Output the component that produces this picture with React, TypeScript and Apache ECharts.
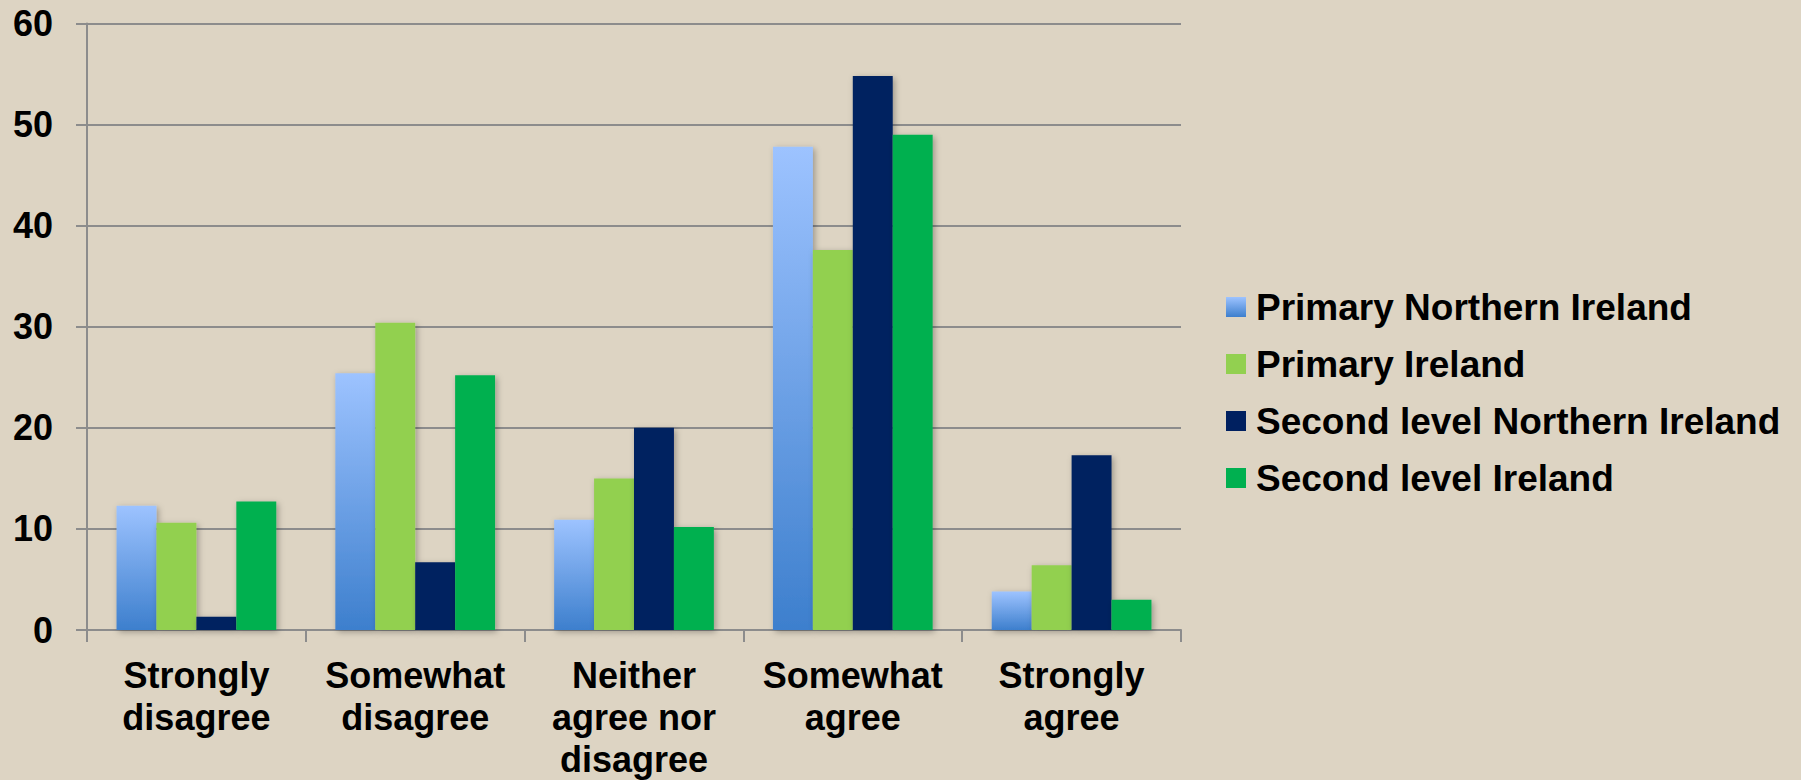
import React, { useEffect, useRef } from "react";
import * as echarts from "echarts";

const categories = [
  "Strongly\ndisagree",
  "Somewhat\ndisagree",
  "Neither\nagree nor\ndisagree",
  "Somewhat\nagree",
  "Strongly\nagree",
];
const seriesNames = [
  "Primary Northern Ireland",
  "Primary Ireland",
  "Second level Northern Ireland",
  "Second level Ireland",
];
const primaryNI = [12.3, 25.4, 10.9, 47.8, 3.8];
const primaryIreland = [10.6, 30.4, 15.0, 37.6, 6.4];
const secondNI = [1.3, 6.7, 20.0, 54.8, 17.3];
const secondIreland = [12.7, 25.2, 10.2, 49.0, 3.0];
const yTicks = { min: 0, max: 60, interval: 10 };

const FONT = '"Liberation Sans", Arial, sans-serif';

export default function App() {
  const ref = useRef<HTMLDivElement>(null);
  useEffect(() => {
    if (!ref.current) return;
    document.body.style.margin = "0";
    document.body.style.overflow = "hidden";
    const chart = echarts.init(ref.current, null, { renderer: "svg" });
    const blueGrad = new echarts.graphic.LinearGradient(0, 0, 0, 1, [
      { offset: 0, color: "#9dc3ff" },
      { offset: 1, color: "#3d7fcd" },
    ]);
    const colors: any[] = [blueGrad, "#92d050", "#002060", "#00b050"];
    const datas = [primaryNI, primaryIreland, secondNI, secondIreland];
    chart.setOption({
      animation: false,
      backgroundColor: "#ddd4c3",
      textStyle: { fontFamily: FONT },
      grid: { left: 87, right: 620, top: 23.5, bottom: 150, containLabel: false },
      legend: {
        orient: "vertical",
        left: 1226,
        top: 287,
        padding: 0,
        itemWidth: 20,
        itemHeight: 20,
        itemGap: 17,
        icon: "rect",
        textStyle: {
          fontFamily: FONT,
          fontSize: 37,
          fontWeight: "bold",
          color: "#000",
          lineHeight: 40,
          padding: [0, 0, 0, 5],
        },
        data: seriesNames,
      },
      xAxis: {
        type: "category",
        data: categories,
        boundaryGap: true,
        axisLine: { show: true, lineStyle: { color: "#8c8c8c", width: 2 } },
        axisTick: { show: true, length: 12, lineStyle: { color: "#8c8c8c", width: 2 } },
        axisLabel: {
          interval: 0,
          margin: 24,
          fontFamily: FONT,
          fontSize: 36,
          fontWeight: "bold",
          color: "#000",
          lineHeight: 42,
        },
      },
      yAxis: {
        type: "value",
        min: yTicks.min,
        max: yTicks.max,
        interval: yTicks.interval,
        axisLine: { show: true, lineStyle: { color: "#8c8c8c", width: 2 } },
        axisTick: { show: true, length: 11, lineStyle: { color: "#8c8c8c", width: 2 } },
        splitLine: { show: true, lineStyle: { color: "#8c8c8c", width: 2 } },
        axisLabel: {
          margin: 34,
          fontFamily: FONT,
          fontSize: 36,
          fontWeight: "bold",
          color: "#000",
        },
      },
      series: seriesNames.map((name, i) => ({
        name,
        type: "bar",
        data: datas[i],
        barGap: "0%",
        barCategoryGap: "27%",
        itemStyle: {
          color: colors[i],
          shadowBlur: 6,
          shadowColor: "rgba(0,0,0,0.3)",
          shadowOffsetX: 2,
          shadowOffsetY: 2,
        },
      })),
    });
    return () => chart.dispose();
  }, []);
  return (
    <div
      ref={ref}
      style={{
        position: "fixed",
        left: 0,
        top: 0,
        width: 1801,
        height: 780,
        overflow: "hidden",
      }}
    />
  );
}
